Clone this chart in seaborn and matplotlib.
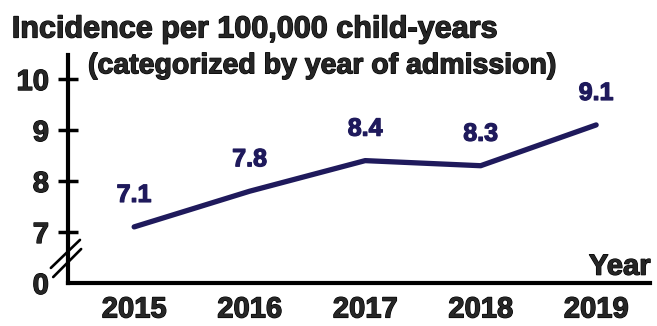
import matplotlib.pyplot as plt
import matplotlib.patheffects as pe
import pandas as pd
import seaborn as sns

years = [2015, 2016, 2017, 2018, 2019]
incidence = [7.1, 7.8, 8.4, 8.3, 9.1]
ytick_values = [6, 7, 8, 9, 10]
ytick_labels = ["0", "7", "8", "9", "10"]

navy = "#1f1a5c"

sns.set_theme(style="white")
plt.rcParams["font.family"] = ["Liberation Sans", "DejaVu Sans"]
plt.rcParams["font.weight"] = "bold"


def heavy(color="black", w=0.9):
    # fake a heavier weight than Liberation Sans Bold
    return [pe.withStroke(linewidth=w, foreground=color)]


df = pd.DataFrame({"year": years, "incidence": incidence})

fig = plt.figure(figsize=(6.57, 3.26), dpi=100)
ax = fig.add_axes([0.104, 0.132, 0.886, 0.699])

sns.lineplot(data=df, x="year", y="incidence", color=navy, linewidth=3.8,
             solid_capstyle="round", ax=ax)

for x, y in zip(years, incidence):
    ax.annotate(f"{y:.1f}", (x, y), xytext=(0, 23), textcoords="offset points",
                ha="center", va="center", color=navy, fontsize=18,
                fontweight="bold", path_effects=heavy(navy))

ax.set_xlim(2014.43, 2019.47)
ax.set_ylim(6, 10.47)
ax.set_xticks(years)
ax.set_xticklabels([str(y) for y in years], fontsize=21, fontweight="bold")
ax.set_yticks(ytick_values)
ax.set_yticklabels(ytick_labels, fontsize=21, fontweight="bold")
for lab in ax.get_xticklabels() + ax.get_yticklabels():
    lab.set_path_effects(heavy())
ax.set_xlabel("")
ax.set_ylabel("")

for side in ["top", "right"]:
    ax.spines[side].set_visible(False)
for side in ["left", "bottom"]:
    ax.spines[side].set_linewidth(3)
    ax.spines[side].set_color("black")

ax.tick_params(axis="y", direction="inout", length=14, width=2.5, color="black",
               pad=7, left=True)
ax.tick_params(axis="x", length=0, pad=9)
ax.yaxis.get_major_ticks()[0].tick1line.set_visible(False)

# axis break marks
ax.plot([-0.030, 0.020], [0.066, 0.189], color="black", lw=1.9,
        transform=ax.transAxes, clip_on=False)
ax.plot([-0.026, 0.022], [0.026, 0.149], color="black", lw=1.9,
        transform=ax.transAxes, clip_on=False)

ax.text(1.0, 0.01, "Year", transform=ax.transAxes, ha="right", va="bottom",
        fontsize=21, fontweight="bold", path_effects=heavy())

fig.text(0.018, 0.885, "Incidence per 100,000 child-years", fontsize=22,
         fontweight="bold", ha="left", va="baseline", path_effects=heavy())
fig.text(0.134, 0.775, "(categorized by year of admission)", fontsize=20.5,
         fontweight="bold", ha="left", va="baseline", path_effects=heavy())

fig.savefig("out.png", dpi=100)
